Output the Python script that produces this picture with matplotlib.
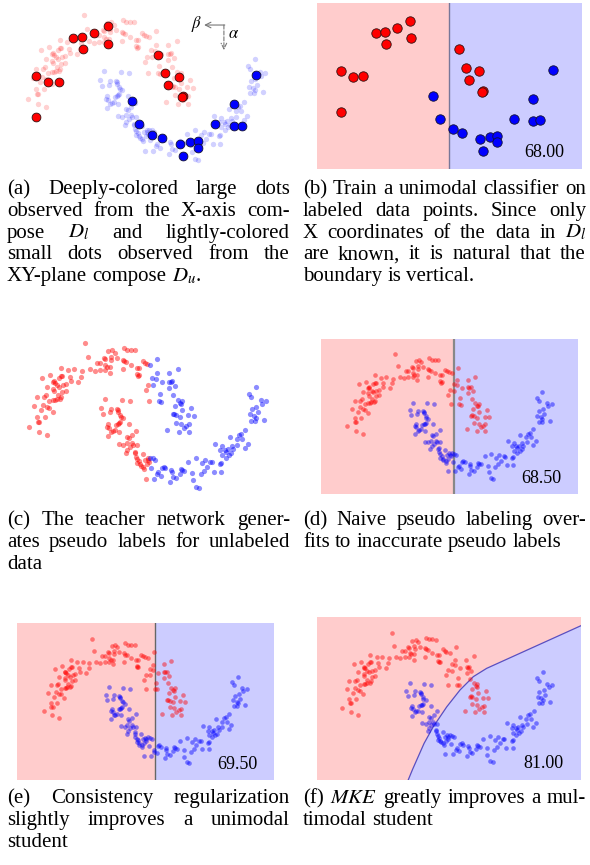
import matplotlib
matplotlib.use('Agg')
import matplotlib.pyplot as plt
import numpy as np

plt.rcParams['mathtext.fontset'] = 'stix'
SERIF = ['Liberation Serif', 'DejaVu Serif']

# ---------------- data (arbitrary units) ----------------
red_moon = [
    (2.55,5.03),(2.64,4.60),(3.25,4.77),(3.37,4.80),(3.45,4.73),(3.73,4.87),(3.82,4.81),(3.93,4.82),
    (4.05,4.80),(3.50,4.57),(3.12,4.57),(3.15,4.53),(3.32,4.60),(3.33,4.50),(3.68,4.52),(3.72,4.47),
    (3.78,4.45),(2.91,4.42),(3.00,4.42),(3.16,4.35),(3.21,4.30),(3.30,4.30),(2.69,4.23),(2.85,4.18),
    (3.00,4.21),(3.15,4.21),(3.30,4.13),(3.68,4.23),(3.92,4.35),(4.10,4.28),(4.16,4.28),(4.28,4.47),
    (4.35,4.43),(4.41,4.40),(4.12,4.08),(4.18,4.05),(4.14,4.03),(4.45,3.77),(4.38,3.60),(4.47,3.27),
    (1.83,4.28),(2.04,4.20),(2.23,4.23),(2.47,4.17),(2.44,4.01),(1.26,3.98),(1.51,4.06),(1.76,3.98),
    (1.82,4.03),(1.86,4.03),(1.63,3.88),(1.60,3.85),(1.64,3.83),(2.10,4.00),(2.13,3.87),(2.35,3.84),
    (1.98,3.78),(1.88,3.75),(1.72,3.75),(1.78,3.70),(1.40,3.70),(1.60,3.65),(1.63,3.57),(1.87,3.55),
    (1.97,3.58),(1.73,3.45),(1.32,3.40),(1.38,3.45),(1.12,3.40),(1.70,3.35),(1.80,3.35),(1.84,3.39),
    (1.48,3.28),(1.60,3.30),(1.66,3.30),(1.30,3.17),(1.40,3.10),(1.48,3.08),(1.58,2.95),(1.02,3.12),
    (1.24,3.00),(1.35,2.78),(1.12,2.78),(1.13,2.65),(1.18,2.65),(0.87,2.50),(1.16,2.34),(1.42,2.24),
    (4.73,4.55),(4.52,4.35),(4.71,4.12),(5.07,4.13),(5.34,4.24),(4.58,3.98),(4.69,3.94),(4.87,3.84),
    (5.09,3.86),(5.13,3.85),(5.18,3.88),(5.09,3.67),(5.25,3.73),(4.60,3.75),(4.81,3.49),(4.77,3.27),
    (4.85,3.26),(5.21,3.47),(5.34,3.32),(5.46,3.29),(5.44,3.20),(5.40,3.22),(5.26,3.12),(5.75,3.07),
    (5.19,2.87),(5.23,2.89),(5.28,2.85),(5.40,2.80),(5.66,2.84),(5.83,2.82),(5.48,2.99),(5.29,2.62),
    (5.45,2.59),(5.68,2.57),(5.60,2.53),(5.52,2.47),(5.68,2.35),(5.38,2.35),(5.03,2.40),
]
blue_moon = [
    (3.16,3.33),(3.66,3.31),(3.90,3.27),(3.04,3.06),(3.09,2.88),(3.33,3.05),(3.31,2.93),(3.50,3.03),
    (3.55,3.00),(3.53,2.95),(3.60,2.85),(3.63,2.80),(3.70,2.75),(3.60,2.63),(3.87,2.57),(3.49,2.55),
    (3.53,2.58),(3.58,2.60),(3.25,2.57),(3.22,2.50),(3.28,2.47),(3.45,2.40),(3.38,2.37),(3.33,2.35),
    (3.57,2.35),(3.23,2.23),(4.09,2.38),(3.97,2.25),(3.82,2.20),(3.87,2.15),(3.57,1.97),(3.70,1.95),
    (3.80,2.00),(3.95,2.00),(4.00,1.95),(3.90,1.90),(4.10,1.95),(3.82,1.80),(3.77,1.70),(4.06,1.75),
    (4.05,1.70),(4.08,1.60),(4.12,1.53),(4.16,1.47),(4.12,1.40),(4.28,1.68),(4.43,1.56),(4.45,1.50),
    (4.47,1.45),(4.35,1.50),(4.20,1.37),(4.22,1.32),(4.30,1.30),(4.32,1.22),(4.40,1.37),(4.37,0.93),
    (4.52,1.57),(4.60,1.55),(4.65,1.50),(4.55,1.27),(4.62,0.93),(4.92,1.30),(4.97,1.25),(4.87,1.27),
    (4.75,1.13),(4.73,1.07),(4.85,1.02),(5.14,1.20),(5.16,1.13),(5.20,0.99),(5.12,0.85),(5.28,0.95),
    (5.53,1.17),(5.47,1.19),(5.40,1.09),(5.43,1.22),(5.77,1.12),(5.80,0.90),(5.88,0.70),(5.97,0.67),
    (5.66,1.45),(5.90,1.55),(6.06,1.40),(6.17,1.50),(6.22,1.30),(6.13,1.18),(6.03,1.07),(6.43,1.15),
    (6.65,1.15),(6.32,1.45),(6.37,1.43),(6.65,1.42),(6.62,1.38),(6.67,1.65),(6.78,1.57),(6.88,1.65),
    (6.95,1.70),(7.00,1.83),(6.62,1.80),(6.75,1.80),(6.80,1.73),(6.85,1.83),(6.67,1.92),(6.46,1.98),
    (6.96,1.92),(7.13,1.95),(7.35,1.85),(7.45,1.99),(7.12,2.12),(7.28,2.12),(6.90,2.20),(7.18,2.25),
    (7.24,2.27),(7.36,2.40),(7.65,2.67),(7.55,2.67),(7.93,2.70),(7.50,2.87),(7.63,2.82),(7.68,2.77),
    (7.75,2.93),(7.56,3.03),(7.70,3.10),(7.83,3.30),(8.00,3.27),(7.87,3.20),(7.48,3.50),(7.55,3.40),
    (7.68,3.70),
]
labeled_red = [
    (1.11,3.18),(1.48,3.00),(1.79,3.02),(1.11,1.94),(2.21,4.33),(2.48,4.35),(2.86,4.48),(3.27,4.70),
    (2.51,3.99),(3.28,4.16),(4.78,3.83),(5.00,3.28),(5.40,3.17),(5.09,2.92),(5.54,2.59),(5.49,2.55),
]
labeled_blue = [
    (3.99,2.44),(4.19,1.73),(4.59,1.42),(4.89,1.31),(5.43,1.13),(5.53,0.77),(5.75,1.19),(5.97,1.23),
    (5.97,1.03),(6.50,1.74),(7.07,2.35),(7.07,1.68),(7.30,1.69),(7.71,3.21),
]
teacher_boundary = 4.49      # pseudo labels of panel (c)
boundary_b = 4.47
boundary_d = 4.58
boundary_e = 4.78
mke_boundary_x = [3.05, 3.26, 3.65, 3.96, 4.42, 4.87, 5.32, 5.77, 9.20]
mke_boundary_y = [-0.10, 0.41, 1.29, 1.85, 2.53, 3.10, 3.55, 3.83, 5.38]
scores = ['68.00', '68.50', '69.50', '81.00']

captions = {
    'a': ["(a) Deeply-colored large dots", "observed from the X-axis com-",
          "pose $D_l$ and lightly-colored", "small dots observed from the",
          "XY-plane compose $D_u$."],
    'b': ["(b) Train a unimodal classifier on", "labeled data points.  Since only",
          "X coordinates of the data in $D_l$", "are known, it is natural that the",
          "boundary is vertical."],
    'c': ["(c) The teacher network gener-", "ates pseudo labels for unlabeled", "data"],
    'd': ["(d) Naive pseudo labeling over-", "fits to inaccurate pseudo labels"],
    'e': ["(e) Consistency regularization", "slightly improves a unimodal", "student"],
    'f': ["(f) $\\mathit{MKE}$ greatly improves a mul-", "timodal student"],
}

# ---------------- style ----------------
RED, BLUE = '#ff0000', '#0000ff'
PINK_BG, BLUE_BG = '#ffcccc', '#ccccff'
W, H = 590, 865

fig = plt.figure(figsize=(W / 100, H / 100), dpi=100)

def add_ax(x0, y0, x1, y1, xlim, ylim):
    ax = fig.add_axes([x0 / W, 1 - y1 / H, (x1 - x0) / W, (y1 - y0) / H])
    ax.set_xlim(*xlim)
    ax.set_ylim(*ylim)
    ax.set_xticks([])
    ax.set_yticks([])
    for s in ax.spines.values():
        s.set_visible(False)
    ax.patch.set_alpha(0)
    return ax

rm = np.array(red_moon)
bm = np.array(blue_moon)
lr = np.array(labeled_red)
lb = np.array(labeled_blue)
allpts = np.vstack([rm, bm])

def small(ax, pts, color, alpha=0.45, s=11):
    ax.scatter(pts[:, 0], pts[:, 1], s=s, c=color, alpha=alpha, linewidths=0, zorder=3)

def score(ax, txt):
    ax.text(0.935, 0.10, txt, transform=ax.transAxes, ha='right', va='center',
            fontsize=13, family=SERIF, zorder=5)

def vertical_split(ax, xb, lc, lw):
    x0, x1 = ax.get_xlim()
    ax.axvspan(x0, xb, color=PINK_BG, lw=0, zorder=0)
    ax.axvspan(xb, x1, color=BLUE_BG, lw=0, zorder=0)
    ax.axvline(xb, color=lc, lw=lw, zorder=1)

# (a)
ax = add_ax(0, 0, 295, 175, (0.03, 8.89), (0.21, 5.47))
small(ax, rm, RED, alpha=0.18, s=15)
small(ax, bm, BLUE, alpha=0.18, s=15)
ax.scatter(lr[:, 0], lr[:, 1], s=40, c=RED, edgecolors='#331111', linewidths=0.6, zorder=4)
ax.scatter(lb[:, 0], lb[:, 1], s=40, c=BLUE, edgecolors='#111133', linewidths=0.6, zorder=4)
ax.annotate('', xy=(0.692, 0.857), xytext=(0.762, 0.857), xycoords='axes fraction',
            arrowprops=dict(arrowstyle='->', color='#777777', lw=0.8, shrinkA=0, shrinkB=0))
ax.annotate('', xy=(0.759, 0.714), xytext=(0.759, 0.857), xycoords='axes fraction',
            arrowprops=dict(arrowstyle='->', color='#777777', lw=0.8, ls='--', shrinkA=0, shrinkB=0))
ax.text(0.668, 0.862, r'$\beta$', transform=ax.transAxes, ha='center', va='center', fontsize=12)
ax.text(0.792, 0.812, r'$\alpha$', transform=ax.transAxes, ha='center', va='center', fontsize=12)

# (b)
ax = add_ax(316.7, 3.3, 581.7, 169.3, (0.365, 8.59), (0.22, 5.22))
vertical_split(ax, boundary_b, '#777799', 1.0)
ax.scatter(lr[:, 0], lr[:, 1], s=46, c=RED, edgecolors='#331111', linewidths=0.6, zorder=4)
ax.scatter(lb[:, 0], lb[:, 1], s=46, c=BLUE, edgecolors='#111133', linewidths=0.6, zorder=4)
score(ax, scores[0])

# (c)
ax = add_ax(0, 318, 295, 500, (0.0, 8.86), (0.30, 5.77))
pseudo_red = allpts[allpts[:, 0] < teacher_boundary]
pseudo_blue = allpts[allpts[:, 0] >= teacher_boundary]
small(ax, pseudo_red, RED, s=14)
small(ax, pseudo_blue, BLUE, s=14)

# (d)
ax = add_ax(321, 339, 578, 494, (-0.05, 8.92), (0.14, 5.55))
vertical_split(ax, boundary_d, '#888888', 1.6)
small(ax, rm, RED)
small(ax, bm, BLUE)
score(ax, scores[1])

# (e)
ax = add_ax(16.7, 622.7, 274, 780, (-0.08, 8.94), (0.08, 5.59))
vertical_split(ax, boundary_e, '#666666', 1.0)
small(ax, rm, RED)
small(ax, bm, BLUE)
score(ax, scores[2])

# (f)
ax = add_ax(317.3, 616.7, 581, 780, (0.03, 8.97), (0.05, 5.58))
ax.axvspan(*ax.get_xlim(), color=PINK_BG, lw=0, zorder=0)
px = mke_boundary_x + [mke_boundary_x[-1], mke_boundary_x[0]]
py = mke_boundary_y + [mke_boundary_y[0], mke_boundary_y[0]]
ax.fill(px, py, color=BLUE_BG, lw=0, zorder=0.5)
ax.plot(mke_boundary_x, mke_boundary_y, color='#5a4fc0', lw=0.9, zorder=1)
small(ax, rm, RED)
small(ax, bm, BLUE)
score(ax, scores[3])

# ---------------- captions (justified) ----------------
FS = 15
renderer = fig.canvas.get_renderer()
SPACE = FS * 100 / 72 * 0.25

def caption(lines, x0, x1, ybase, dy=21.8):
    for i, line in enumerate(lines):
        words = line.split()
        texts = []
        widths = []
        for wd in words:
            t = fig.text(0, 0, wd, fontsize=FS, family=SERIF, va='baseline', ha='left')
            widths.append(t.get_window_extent(renderer).width)
            texts.append(t)
        last = (i == len(lines) - 1)
        if last or len(words) == 1:
            gap = SPACE
        else:
            gap = (x1 - x0 - sum(widths)) / (len(words) - 1)
        x = x0
        y = ybase + i * dy
        for t, w in zip(texts, widths):
            t.set_position((x / W, 1 - y / H))
            x += w + gap

caption(captions['a'], 7, 290, 194)
caption(captions['b'], 303, 586, 194)
caption(captions['c'], 7, 290, 525)
caption(captions['d'], 303, 586, 525)
caption(captions['e'], 7, 290, 803)
caption(captions['f'], 303, 586, 803)

fig.savefig('out.png', dpi=100)
